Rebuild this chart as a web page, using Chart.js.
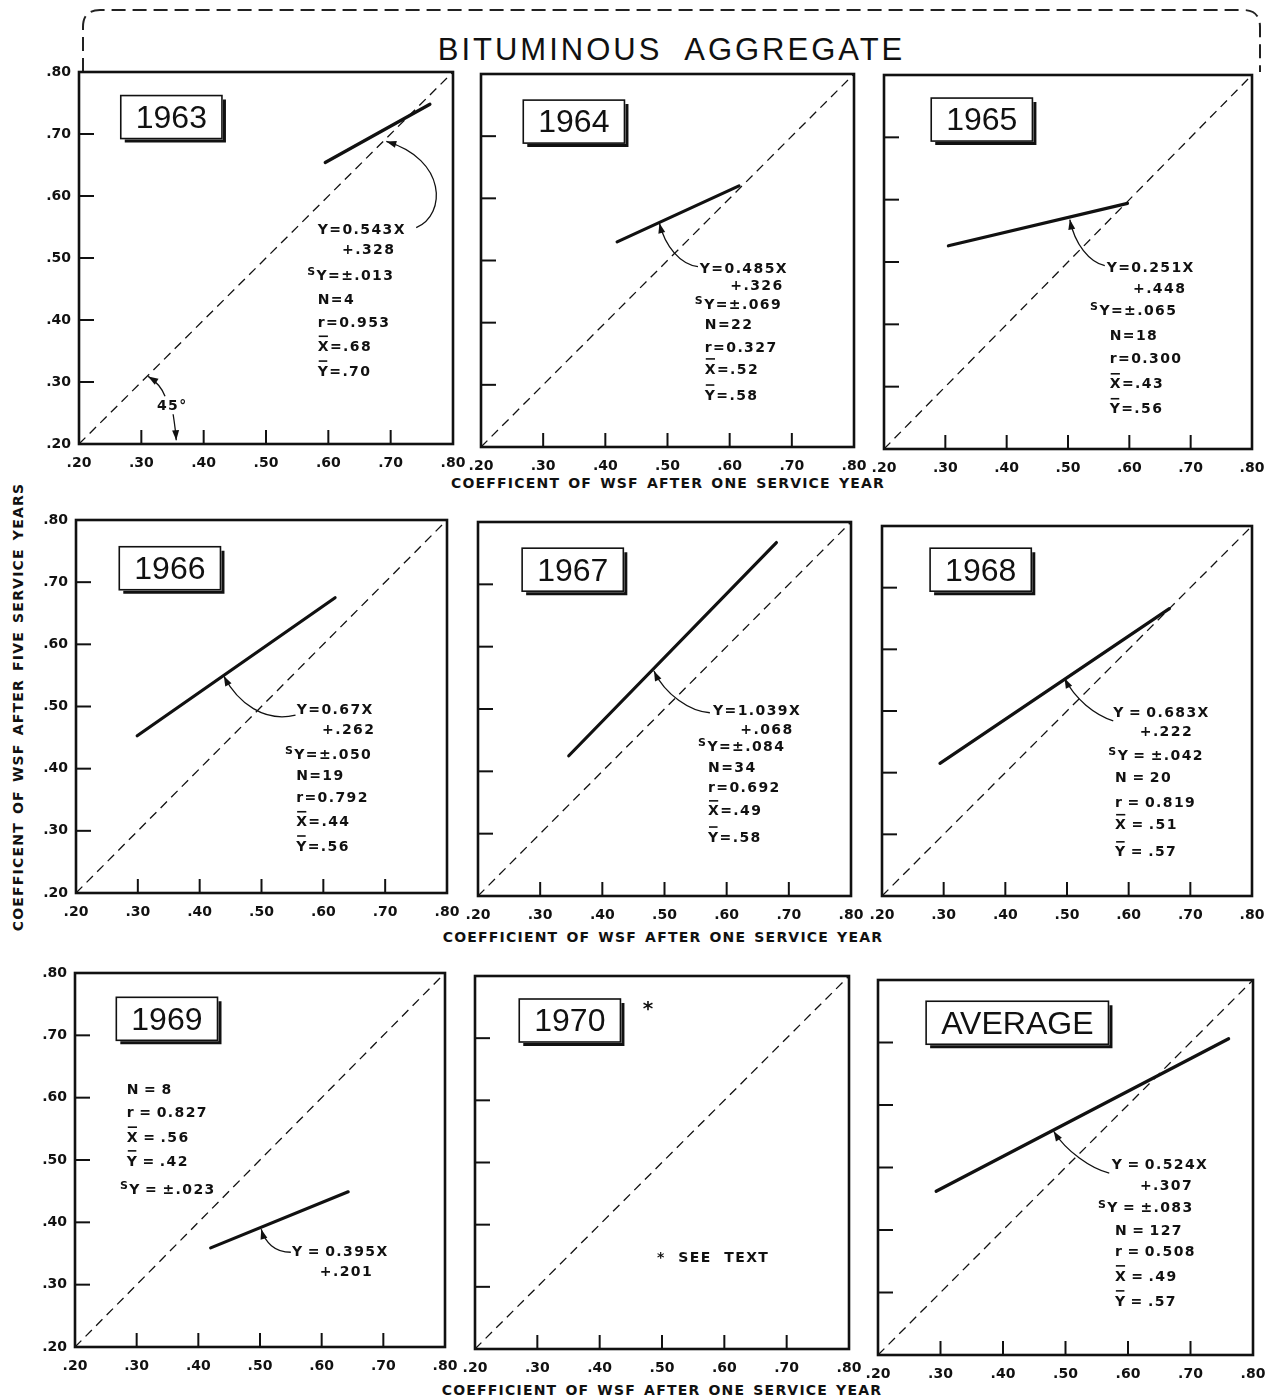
<!DOCTYPE html>
<html>
<head>
<meta charset="utf-8">
<title>Bituminous Aggregate</title>
<script src="https://cdn.jsdelivr.net/npm/chart.js@4.4.1/dist/chart.umd.min.js"></script>
<style>
  body { margin: 0; background: #fff; }
  #page { position: relative; width: 1275px; height: 1399px; overflow: hidden; background: #fff; }
  #page canvas { position: absolute; }
  .axisTitle {
    position: absolute; width: 700px; text-align: center; white-space: nowrap;
    font-family: 'DejaVu Sans', sans-serif; font-weight: bold; font-size: 14px;
    letter-spacing: 1.2px; word-spacing: 2px; color: #111; line-height: 16px;
  }
  #title {
    position: absolute; left: 34px; top: 33px; width: 1275px; text-align: center;
    font-family: 'Liberation Sans', sans-serif; font-size: 31px; line-height: 34px;
    letter-spacing: 3px; word-spacing: 12px; color: #111;
  }
</style>
</head>
<body>
<div id="page">
  <svg width="1275" height="90" style="position:absolute;left:0;top:0">
    <path d="M83 72 V27 Q83 10 100 10 H1243 Q1260 10 1260 27 V72" fill="none" stroke="#222" stroke-width="2" stroke-dasharray="14 7"/>
  </svg>
  <div id="title">BITUMINOUS AGGREGATE</div>
  <div class="axisTitle" style="left:318px;top:475px">COEFFICENT OF WSF AFTER ONE SERVICE YEAR</div>
  <div class="axisTitle" style="left:313px;top:929px">COEFFICIENT OF WSF AFTER ONE SERVICE YEAR</div>
  <div class="axisTitle" style="left:312px;top:1382px">COEFFICIENT OF WSF AFTER ONE SERVICE YEAR</div>
  <div class="axisTitle" style="left:18px;top:707px;transform:translate(-50%,-50%) rotate(-90deg)">COEFFICENT OF WSF AFTER FIVE SERVICE YEARS</div>
</div>
<script>
const ink = '#111';

// data
const years = ['1963', '1964', '1965', '1966', '1967', '1968', '1969', '1970', 'AVERAGE'];
const tickValues = [0.2, 0.3, 0.4, 0.5, 0.6, 0.7, 0.8];
const tickLabels = ['.20', '.30', '.40', '.50', '.60', '.70', '.80'];
const innerTicks = [0.3, 0.4, 0.5, 0.6, 0.7];
const diagonalX = [0.2, 0.8];
const diagonalY = [0.2, 0.8];
const fitStartX = [0.595, 0.419, 0.305, 0.299, 0.346, 0.294, 0.420, null, 0.293];
const fitStartY = [0.654, 0.530, 0.526, 0.453, 0.425, 0.415, 0.359, null, 0.462];
const fitEndX = [0.763, 0.615, 0.597, 0.619, 0.680, 0.666, 0.643, null, 0.761];
const fitEndY = [0.748, 0.620, 0.594, 0.675, 0.767, 0.666, 0.449, null, 0.706];
const slopes = ['0.543', '0.485', '0.251', '0.67', '1.039', '0.683', '0.395', null, '0.524'];
const intercepts = ['+.328', '+.326', '+.448', '+.262', '+.068', '+.222', '+.201', null, '+.307'];
const stdErrors = ['.013', '.069', '.065', '.050', '.084', '.042', '.023', null, '.083'];
const counts = ['4', '22', '18', '19', '34', '20', '8', null, '127'];
const rValues = ['0.953', '0.327', '0.300', '0.792', '0.692', '0.819', '0.827', null, '0.508'];
const meanX = ['.68', '.52', '.43', '.44', '.49', '.51', '.56', null, '.49'];
const meanY = ['.70', '.58', '.56', '.56', '.58', '.57', '.42', null, '.57'];

// layout: plot areas on the page, [left, top, right, bottom]
const panelRects = [
  [79, 72, 453, 444], [481, 74, 854, 447], [884, 75, 1252, 449],
  [76, 520, 447, 893], [478, 522, 851, 896], [882, 526, 1252, 896],
  [75, 973, 445, 1347], [475, 976, 849, 1349], [878, 980, 1253, 1355]
];
// annotation anchors in data units
const boxPos = [[0.267, 0.762], [0.268, 0.758], [0.277, 0.763], [0.270, 0.757], [0.271, 0.758],
  [0.278, 0.764], [0.267, 0.761], [0.271, 0.763], [0.277, 0.766]];
const notePos = [
  [[0.583, 0.545], [0.622, 0.512], [0.566, 0.470], [0.583, 0.431], [0.583, 0.394], [0.583, 0.356], [0.583, 0.316]],
  [[0.552, 0.486], [0.601, 0.459], [0.544, 0.428], [0.560, 0.395], [0.560, 0.359], [0.560, 0.324], [0.560, 0.282]],
  [[0.563, 0.490], [0.606, 0.456], [0.536, 0.421], [0.568, 0.381], [0.568, 0.344], [0.568, 0.303], [0.568, 0.263]],
  [[0.557, 0.493], [0.598, 0.461], [0.538, 0.422], [0.556, 0.387], [0.556, 0.353], [0.556, 0.313], [0.556, 0.274]],
  [[0.578, 0.497], [0.622, 0.466], [0.554, 0.439], [0.570, 0.405], [0.570, 0.373], [0.570, 0.335], [0.570, 0.293]],
  [[0.575, 0.496], [0.618, 0.465], [0.567, 0.426], [0.578, 0.390], [0.578, 0.351], [0.578, 0.314], [0.578, 0.270]],
  [[0.552, 0.352], [0.597, 0.320], [0.273, 0.452], [0.284, 0.611], [0.284, 0.575], [0.284, 0.535], [0.284, 0.497]],
  null,
  [[0.574, 0.504], [0.619, 0.470], [0.552, 0.434], [0.579, 0.398], [0.579, 0.365], [0.579, 0.325], [0.579, 0.285]]
];
const spacedEq = [false, false, false, false, false, true, true, false, true];
const arrows = [
  [[[0.741, 0.549], [0.790, 0.570], [0.790, 0.659], [0.693, 0.688]],
   [[0.338, 0.277], [0.333, 0.290], [0.322, 0.302], [0.311, 0.309]],
   [[0.351, 0.248], [0.353, 0.235], [0.355, 0.222], [0.356, 0.206]]],
  [[[0.549, 0.490], [0.520, 0.494], [0.496, 0.523], [0.487, 0.560]]],
  [[[0.560, 0.494], [0.535, 0.500], [0.511, 0.528], [0.503, 0.568]]],
  [[[0.555, 0.486], [0.505, 0.474], [0.462, 0.505], [0.439, 0.549]]],
  [[[0.573, 0.494], [0.541, 0.496], [0.501, 0.523], [0.483, 0.561]]],
  [[[0.575, 0.484], [0.545, 0.494], [0.513, 0.519], [0.496, 0.553]]],
  [[[0.550, 0.352], [0.524, 0.352], [0.508, 0.368], [0.502, 0.389]]],
  [],
  [[[0.570, 0.491], [0.541, 0.498], [0.501, 0.526], [0.481, 0.558]]]
];
const extraText = [
  [{ t: '45°', x: 0.325, y: 0.261 }],
  [], [], [], [], [], [],
  [{ t: '*', x: 0.469, y: 0.745, size: 20 }, { t: '*  SEE  TEXT', x: 0.492, y: 0.345 }],
  []
];

function noteLines(i) {
  const eq = spacedEq[i] ? '\u2009=\u2009' : '=';
  return [
    { t: 'Y' + eq + slopes[i] + 'X' },
    { t: intercepts[i] },
    { t: 'Y' + eq + '±' + stdErrors[i], sub: true },
    { t: 'N' + eq + counts[i] },
    { t: 'r' + eq + rValues[i] },
    { t: 'X' + eq + meanX[i], bar: true },
    { t: 'Y' + eq + meanY[i], bar: true }
  ];
}

function drawArrow(ctx, pts) {
  const [p0, c1, c2, p3] = pts;
  ctx.beginPath();
  ctx.moveTo(p0[0], p0[1]);
  ctx.bezierCurveTo(c1[0], c1[1], c2[0], c2[1], p3[0], p3[1]);
  ctx.stroke();
  const ang = Math.atan2(p3[1] - c2[1], p3[0] - c2[0]);
  const len = 10, w = 3.5;
  const bx = p3[0] - len * Math.cos(ang), by = p3[1] - len * Math.sin(ang);
  ctx.beginPath();
  ctx.moveTo(p3[0], p3[1]);
  ctx.lineTo(bx + w * Math.sin(ang), by - w * Math.cos(ang));
  ctx.lineTo(bx - w * Math.sin(ang), by + w * Math.cos(ang));
  ctx.closePath();
  ctx.fill();
}

const decor = {
  id: 'decor',
  afterDraw(chart, args, opts) {
    const i = opts.idx;
    const { ctx, chartArea: a } = chart;
    const sx = v => chart.scales.x.getPixelForValue(v);
    const sy = v => chart.scales.y.getPixelForValue(v);
    ctx.save();
    ctx.strokeStyle = ink;
    ctx.fillStyle = ink;
    // frame
    ctx.lineWidth = 2.6;
    ctx.strokeRect(a.left, a.top, a.right - a.left, a.bottom - a.top);
    // inward tick marks
    ctx.lineWidth = 2;
    innerTicks.forEach(v => {
      const px = sx(v), py = sy(v);
      ctx.beginPath(); ctx.moveTo(px, a.bottom); ctx.lineTo(px, a.bottom - 14); ctx.stroke();
      ctx.beginPath(); ctx.moveTo(a.left, py); ctx.lineTo(a.left + 15, py); ctx.stroke();
    });

    // year box with shadow
    ctx.font = '32px "Liberation Sans", sans-serif';
    const tw = ctx.measureText(years[i]).width;
    const bw = tw + 30, bh = 43;
    const bx = sx(boxPos[i][0]), by = sy(boxPos[i][1]);
    ctx.fillStyle = '#fff';
    ctx.fillRect(bx, by, bw, bh);
    ctx.fillStyle = ink;
    ctx.lineWidth = 1.6;
    ctx.strokeRect(bx, by, bw, bh);
    ctx.lineWidth = 3;
    ctx.beginPath();
    ctx.moveTo(bx + bw + 2.5, by + 4);
    ctx.lineTo(bx + bw + 2.5, by + bh + 2.5);
    ctx.lineTo(bx + 4, by + bh + 2.5);
    ctx.stroke();
    ctx.textAlign = 'center';
    ctx.textBaseline = 'middle';
    ctx.fillText(years[i], bx + bw / 2, by + bh / 2 + 2);

    // regression notes
    ctx.textAlign = 'left';
    ctx.letterSpacing = '1.4px';
    const bold = s => 'bold ' + s + 'px "DejaVu Sans", sans-serif';
    if (notePos[i]) {
      noteLines(i).forEach((ln, k) => {
        let x = sx(notePos[i][k][0]);
        const y = sy(notePos[i][k][1]);
        if (ln.sub) {
          ctx.font = bold(11);
          ctx.fillText('S', x, y - 4);
          x += ctx.measureText('S').width;
        }
        ctx.font = bold(14);
        ctx.fillText(ln.t, x, y);
        if (ln.bar) {
          const w = ctx.measureText(ln.t[0]).width;
          ctx.lineWidth = 1.6;
          ctx.beginPath(); ctx.moveTo(x + 1, y - 11); ctx.lineTo(x + w - 2, y - 11); ctx.stroke();
        }
      });
    }
    extraText[i].forEach(e => {
      ctx.font = bold(e.size || 14);
      ctx.fillText(e.t, sx(e.x), sy(e.y));
    });

    // curved pointers
    ctx.lineWidth = 1.3;
    arrows[i].forEach(arr => drawArrow(ctx, arr.map(p => [sx(p[0]), sy(p[1])])));
    ctx.restore();
  }
};

function axis(dir, showLabels, size) {
  return {
    type: 'linear',
    min: 0.2,
    max: 0.8,
    afterBuildTicks: s => { s.ticks = tickValues.map(v => ({ value: v })); },
    afterFit: s => {
      // fixed axis size, no extra room for edge labels
      if (dir === 'x') s.height = size; else s.width = size;
      s.paddingLeft = 0; s.paddingRight = 0; s.paddingTop = 0; s.paddingBottom = 0;
    },
    grid: { display: false, drawTicks: false },
    border: { display: false },
    ticks: {
      display: showLabels,
      padding: dir === 'x' ? 11 : 8,
      color: ink,
      font: { size: 14, weight: 'bold' },
      maxRotation: 0,
      minRotation: 0,
      autoSkip: false,
      callback: (v, k) => tickLabels[k]
    }
  };
}

Chart.defaults.font.family = "'DejaVu Sans', sans-serif";
const page = document.getElementById('page');

function buildPanel(i) {
  const [L, T, R, B] = panelRects[i];
  const padL = 50, padT = 14, padR = 22, padB = 42;
  const yw = 44, xh = 32;
  const w = R - L + padL + padR, h = B - T + padT + padB;
  const cv = document.createElement('canvas');
  cv.width = w; cv.height = h;
  cv.style.left = (L - padL) + 'px';
  cv.style.top = (T - padT) + 'px';
  cv.style.width = w + 'px';
  cv.style.height = h + 'px';
  page.appendChild(cv);

  const datasets = [{
    data: diagonalX.map((x, k) => ({ x, y: diagonalY[k] })),
    showLine: true, borderColor: ink, borderWidth: 1.3, borderDash: [9, 6], pointRadius: 0
  }];
  if (fitStartX[i] !== null) {
    datasets.push({
      data: [{ x: fitStartX[i], y: fitStartY[i] }, { x: fitEndX[i], y: fitEndY[i] }],
      showLine: true, borderColor: ink, borderWidth: 3.2, pointRadius: 0, borderCapStyle: 'round'
    });
  }

  new Chart(cv, {
    type: 'scatter',
    data: { datasets },
    options: {
      responsive: false,
      animation: false,
      events: [],
      layout: { autoPadding: false, padding: { left: padL - yw, top: padT, right: padR, bottom: padB - xh } },
      scales: {
        x: axis('x', true, xh),
        y: axis('y', i % 3 === 0, yw)
      },
      plugins: { legend: { display: false }, tooltip: { enabled: false }, decor: { idx: i } }
    },
    plugins: [decor]
  });
}

years.forEach((y, i) => buildPanel(i));
</script>
</body>
</html>
